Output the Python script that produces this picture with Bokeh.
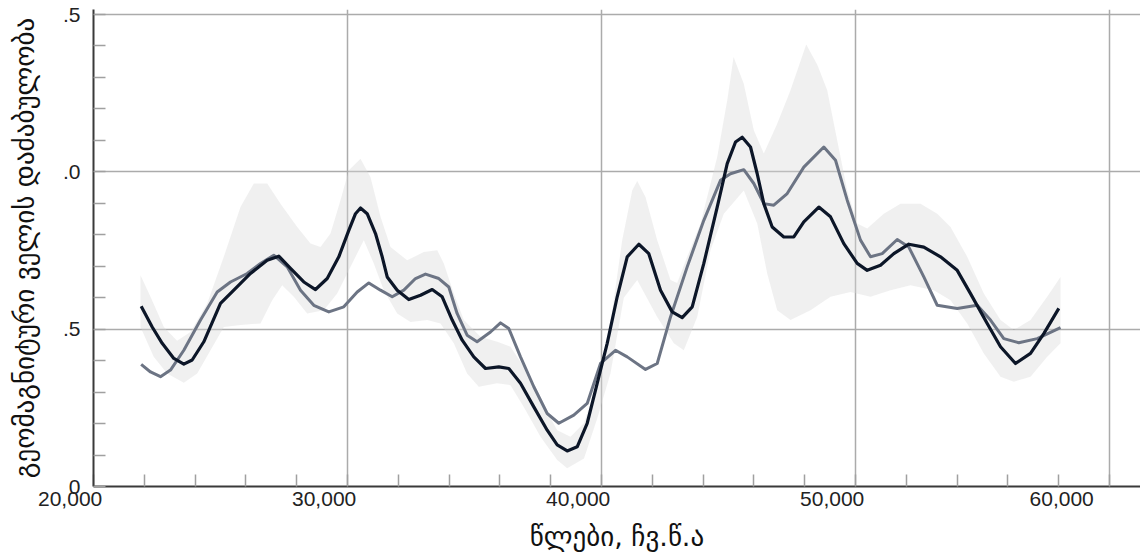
import numpy as np
from bokeh.plotting import figure
from bokeh.models import FixedTicker, Range1d
from bokeh.embed import file_html
from bokeh.resources import INLINE

# --- data ---
dark_x = [21877, 22311, 22704, 23163, 23556, 23885, 24343, 25000, 25524, 26181,
          26838, 27295, 27756, 28280, 28740, 29201, 29658, 30051, 30315, 30512,
          30775, 31102, 31366, 31563, 31957, 32413, 32874, 33335, 33728, 34122,
          34516, 34972, 35433, 35957, 36350, 36811, 37335, 37862, 38256, 38650,
          39043, 39437, 39764, 40224, 40618, 41012, 41470, 41862, 42323, 42783,
          43177, 43571, 44028, 44555, 44949, 45276, 45539, 45866, 46130, 46390,
          46720, 47177, 47571, 47965, 48555, 49016, 49539, 50067, 50461, 50984,
          51508, 52098, 52689, 53346, 54004, 54528, 55185, 55709, 56299, 56890,
          57413, 58004]
dark_y = [0.573, 0.507, 0.455, 0.407, 0.389, 0.402, 0.460, 0.582, 0.624, 0.677,
          0.719, 0.732, 0.693, 0.650, 0.626, 0.661, 0.730, 0.814, 0.867, 0.885,
          0.867, 0.804, 0.730, 0.666, 0.624, 0.594, 0.608, 0.626, 0.603, 0.529,
          0.465, 0.412, 0.375, 0.380, 0.375, 0.328, 0.253, 0.179, 0.132, 0.113,
          0.126, 0.201, 0.306, 0.455, 0.603, 0.730, 0.770, 0.740, 0.624, 0.555,
          0.537, 0.571, 0.709, 0.888, 1.026, 1.095, 1.110, 1.079, 0.994, 0.899,
          0.825, 0.793, 0.793, 0.841, 0.888, 0.857, 0.772, 0.709, 0.687, 0.703,
          0.740, 0.770, 0.761, 0.730, 0.687, 0.613, 0.518, 0.444, 0.391, 0.423,
          0.486, 0.566]

gray_x = [21877, 22244, 22638, 23031, 23556, 24213, 24870, 25394, 26051, 26575,
          27098, 27626, 28150, 28673, 29264, 29854, 30382, 30839, 31299, 31760,
          32217, 32677, 33071, 33594, 33988, 34315, 34709, 35102, 35630, 36024,
          36350, 36811, 37335, 37862, 38319, 38909, 39437, 39961, 40551, 41012,
          41732, 42193, 42717, 43374, 44028, 44685, 45079, 45602, 45996, 46390,
          46783, 47311, 47965, 48752, 49213, 49673, 50197, 50591, 51051, 51642,
          52098, 52689, 53217, 54004, 54791, 55315, 55839, 56429, 57154, 58071]
gray_y = [0.388, 0.364, 0.349, 0.370, 0.433, 0.529, 0.618, 0.650, 0.677, 0.709,
          0.735, 0.698, 0.624, 0.576, 0.555, 0.571, 0.618, 0.647, 0.624, 0.603,
          0.624, 0.661, 0.675, 0.661, 0.634, 0.550, 0.481, 0.460, 0.491, 0.520,
          0.502, 0.412, 0.317, 0.232, 0.201, 0.227, 0.264, 0.391, 0.433, 0.412,
          0.372, 0.391, 0.539, 0.698, 0.846, 0.973, 0.994, 1.007, 0.963, 0.899,
          0.894, 0.931, 1.015, 1.079, 1.037, 0.910, 0.783, 0.730, 0.740, 0.785,
          0.761, 0.666, 0.576, 0.566, 0.576, 0.529, 0.470, 0.457, 0.470, 0.505]

band_up_x = [21850, 22244, 22769, 23291, 23819, 24476, 25130, 25787, 26311, 26838,
             27362, 28020, 28543, 28937, 29331, 29724, 30051, 30512, 30906, 31299,
             31693, 32350, 33004, 33531, 33791, 34185, 34579, 35236, 35894, 36417,
             36941, 37598, 38256, 38780, 39303, 39831, 40354, 40815, 41209, 41406,
             41732, 42193, 42717, 42980, 43374, 43898, 44555, 44949, 45200, 45600,
             45996, 46390, 46917, 47441, 48060, 48500, 48886, 49280, 49673, 50067,
             50461, 51114, 51772, 52559, 53217, 53740, 54398, 55051, 55709, 56232,
             56890, 57547, 58071]
band_up_y = [0.671, 0.603, 0.507, 0.463, 0.491, 0.582, 0.730, 0.888, 0.963, 0.963,
             0.899, 0.825, 0.772, 0.761, 0.804, 0.910, 1.005, 1.042, 0.983, 0.857,
             0.761, 0.719, 0.745, 0.751, 0.709, 0.613, 0.529, 0.476, 0.460, 0.444,
             0.380, 0.275, 0.179, 0.158, 0.201, 0.328, 0.518, 0.783, 0.941, 0.971,
             0.920, 0.783, 0.656, 0.647, 0.730, 0.836, 1.047, 1.227, 1.365, 1.280,
             1.132, 1.058, 1.153, 1.259, 1.405, 1.340, 1.259, 1.100, 0.941, 0.836,
             0.820, 0.867, 0.899, 0.899, 0.867, 0.825, 0.730, 0.613, 0.529, 0.497,
             0.529, 0.603, 0.666]

band_lo_x = [21850, 22370, 22900, 23556, 24083, 24606, 25130, 25787, 26575, 27035,
             27429, 27886, 28413, 29067, 29594, 30248, 30642, 31035, 31429, 31957,
             32480, 33138, 33661, 34185, 34709, 35169, 35894, 36417, 36941, 37598,
             38256, 38650, 39310, 39831, 40354, 40878, 41406, 42193, 42848, 43240,
             43768, 44291, 44815, 45602, 46130, 46524, 46917, 47441, 48228, 49016,
             49803, 50591, 51378, 52165, 53083, 53740, 54398, 55051, 55709, 56232,
             56890, 57547, 58071]
band_lo_y = [0.507, 0.412, 0.359, 0.330, 0.359, 0.433, 0.507, 0.513, 0.518, 0.592,
             0.640, 0.603, 0.550, 0.560, 0.613, 0.719, 0.783, 0.709, 0.624, 0.550,
             0.523, 0.529, 0.518, 0.455, 0.359, 0.317, 0.328, 0.322, 0.253, 0.158,
             0.084, 0.058, 0.089, 0.216, 0.360, 0.600, 0.656, 0.539, 0.455, 0.433,
             0.539, 0.751, 0.867, 0.941, 0.836, 0.677, 0.560, 0.529, 0.560, 0.603,
             0.618, 0.603, 0.624, 0.640, 0.624, 0.592, 0.518, 0.423, 0.349, 0.333,
             0.349, 0.412, 0.455]

x_ticks = [20000, 30000, 40000, 50000, 60000]
x_tick_labels = ["20,000", "30,000", "40,000", "50,000", "60,000"]
y_ticks = [0, 0.5, 1.0, 1.5]
y_tick_labels = ["0", ".5", ".0", ".5"]
x_title = "წლები, ჩვ.წ.ა"
y_title = "გეომაგნიტური ველის დაძაბულობა"

# --- figure ---
p = figure(width=1140, height=556,
           x_range=Range1d(20000, 61220), y_range=Range1d(0, 1.516),
           output_backend="svg", toolbar_location=None,
           min_border_left=93, min_border_right=0,
           min_border_top=9, min_border_bottom=70)
p.outline_line_color = None
p.background_fill_color = "white"
p.border_fill_color = "white"

# confidence band: polygon from the upper edge and the reversed lower edge
poly_x = list(band_up_x) + list(reversed(band_lo_x))
poly_y = list(band_up_y) + list(reversed(band_lo_y))
p.patch(poly_x, poly_y, fill_color="#d8d8d8", fill_alpha=0.38, line_color=None)

p.line(gray_x, gray_y, line_color="#6c7484", line_width=3, line_join="round")
p.line(dark_x, dark_y, line_color="#0c1628", line_width=3.2, line_join="round")

# axes
x_minor = list(range(20000, 61001, 2000))
y_minor = [round(v, 2) for v in np.arange(0, 1.51, 0.1)]
p.xaxis.ticker = FixedTicker(ticks=x_ticks, minor_ticks=x_minor)
p.yaxis.ticker = FixedTicker(ticks=y_ticks, minor_ticks=y_minor)
p.yaxis.major_label_overrides = {t: s for t, s in zip(y_ticks, y_tick_labels)}
# figure spaces after each x label put its visible end near the tick,
# as the reference right-aligns its x tick labels
PAD = "\u2007" * 4
p.xaxis.major_label_overrides = {t: s + PAD for t, s in zip(x_ticks, x_tick_labels)}

for ax in (p.xaxis, p.yaxis):
    ax.axis_line_color = "#3a3a3a"
    ax.axis_line_width = 2
    ax.major_tick_in = 0
    ax.major_tick_out = 0
    ax.minor_tick_in = 12
    ax.minor_tick_out = 0
    ax.minor_tick_line_color = "#a0a0a0"
    ax.minor_tick_line_width = 1.5
    ax.major_label_text_font = "Liberation Sans"
    ax.major_label_text_font_size = "21px"
    ax.major_label_text_color = "#222222"
    ax.axis_label_text_font = "DejaVu Sans"
    ax.axis_label_text_font_style = "normal"
    ax.axis_label_text_color = "#111111"

p.xaxis.major_label_standoff = 0
p.xaxis.axis_label = x_title
p.xaxis.axis_label_text_font_size = "27px"
p.xaxis.axis_label_standoff = 8

p.yaxis.major_label_standoff = 13
p.yaxis.axis_label = y_title
p.yaxis.axis_label_text_font_size = "27px"
p.yaxis.axis_label_standoff = 20

p.xgrid.ticker = FixedTicker(ticks=x_ticks)
p.ygrid.ticker = FixedTicker(ticks=y_ticks)
for g in (p.xgrid, p.ygrid):
    g.grid_line_color = "#ababab"
    g.grid_line_width = 1.5

open("out.html", "w").write(file_html(p, INLINE))
